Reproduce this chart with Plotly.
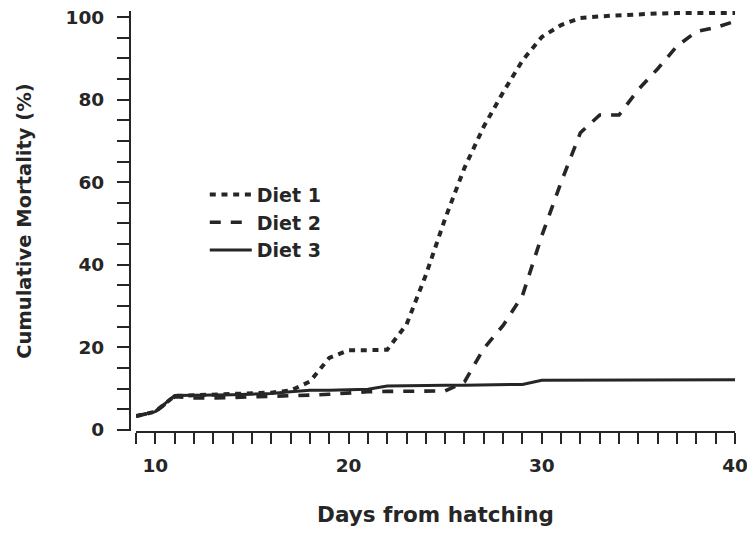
import plotly.graph_objects as go

days = list(range(9, 41))
diet1 = [3.3, 4.4, 8.2, 8.4, 8.5, 8.7, 8.8, 9.0, 9.5, 11.7, 17.4, 19.3, 19.3, 19.4,
         25.5, 37.5, 51.2, 63.5, 73.5, 81.8, 89.5, 95.2, 98.1, 99.8, 100.2, 100.5,
         100.7, 100.9, 101.0, 101.0, 101.0, 101.0]
diet2 = [3.3, 4.4, 8.0, 7.7, 7.7, 7.8, 7.9, 8.0, 8.2, 8.4, 8.6, 9.0, 9.2, 9.3,
         9.3, 9.3, 9.4, 11.6, 19.7, 25.3, 32.5, 47.0, 60.0, 72.0, 76.3, 76.3,
         82.5, 87.5, 93.0, 96.5, 97.5, 99.0]
diet3 = [3.3, 4.4, 8.3, 8.3, 8.4, 8.5, 8.6, 8.8, 9.2, 9.6, 9.6, 9.7, 9.8, 10.6,
         10.7, 10.7, 10.8, 10.8, 10.9, 10.9, 11.0, 12.0, 12.0, 12.0, 12.0, 12.1,
         12.1, 12.1, 12.1, 12.1, 12.1, 12.1]
series_names = ["Diet 1", "Diet 2", "Diet 3"]

x_ticks = list(range(9, 41))
x_labels = [str(v) if v % 10 == 0 else "" for v in x_ticks]
y_ticks = list(range(0, 101, 5))
y_labels = [str(v) if v % 20 == 0 else "" for v in y_ticks]

ink = "#262626"
font_fam = "DejaVu Sans, Verdana, sans-serif"

fig = go.Figure()
fig.add_trace(go.Scatter(x=days, y=diet1, mode="lines", name=series_names[0],
                         line=dict(color=ink, width=4, dash="6px,5.7px")))
fig.add_trace(go.Scatter(x=days, y=diet2, mode="lines", name=series_names[1],
                         line=dict(color=ink, width=3.6, dash="11px,10px")))
fig.add_trace(go.Scatter(x=days, y=diet3, mode="lines", name=series_names[2],
                         line=dict(color=ink, width=3)))

fig.update_layout(
    template="none",
    width=747, height=533,
    margin=dict(l=100, r=12, t=11, b=102, autoexpand=False),
    paper_bgcolor="white", plot_bgcolor="white",
    font=dict(family=font_fam, color=ink, size=18.5, weight="bold"),
    showlegend=True,
    legend=dict(x=0.165, y=0.608, xanchor="left", yanchor="top",
                bgcolor="rgba(0,0,0,0)", borderwidth=0, itemwidth=42,
                font=dict(size=19, weight="bold")),
    xaxis=dict(range=[9, 40], domain=[0.0567, 1.0], anchor="y", automargin=False,
               tickmode="array", tickvals=x_ticks, ticktext=x_labels,
               ticks="outside", ticklen=11, tickwidth=2.2, tickcolor=ink,
               ticklabelstandoff=6, ticklabeloverflow="allow",
               showline=True, linewidth=2.2, linecolor=ink,
               showgrid=False, zeroline=False,
               tickfont=dict(size=18.5, weight="bold"),
               title=dict(text="Days from hatching", font=dict(size=21.5, weight="bold"),
                          standoff=32)),
    yaxis=dict(range=[-0.3, 101.5], anchor="free", position=0.0472, automargin=False,
               tickmode="array", tickvals=y_ticks, ticktext=y_labels,
               ticks="outside", ticklen=12, tickwidth=2.2, tickcolor=ink,
               ticklabelstandoff=9, ticklabeloverflow="allow",
               showline=True, linewidth=2.2, linecolor=ink,
               showgrid=False, zeroline=False,
               tickfont=dict(size=18.5, weight="bold"),
               title=dict(text="Cumulative Mortality (%)", font=dict(size=19.5, weight="bold"),
                          standoff=28)),
)

fig.write_html("out.html")
